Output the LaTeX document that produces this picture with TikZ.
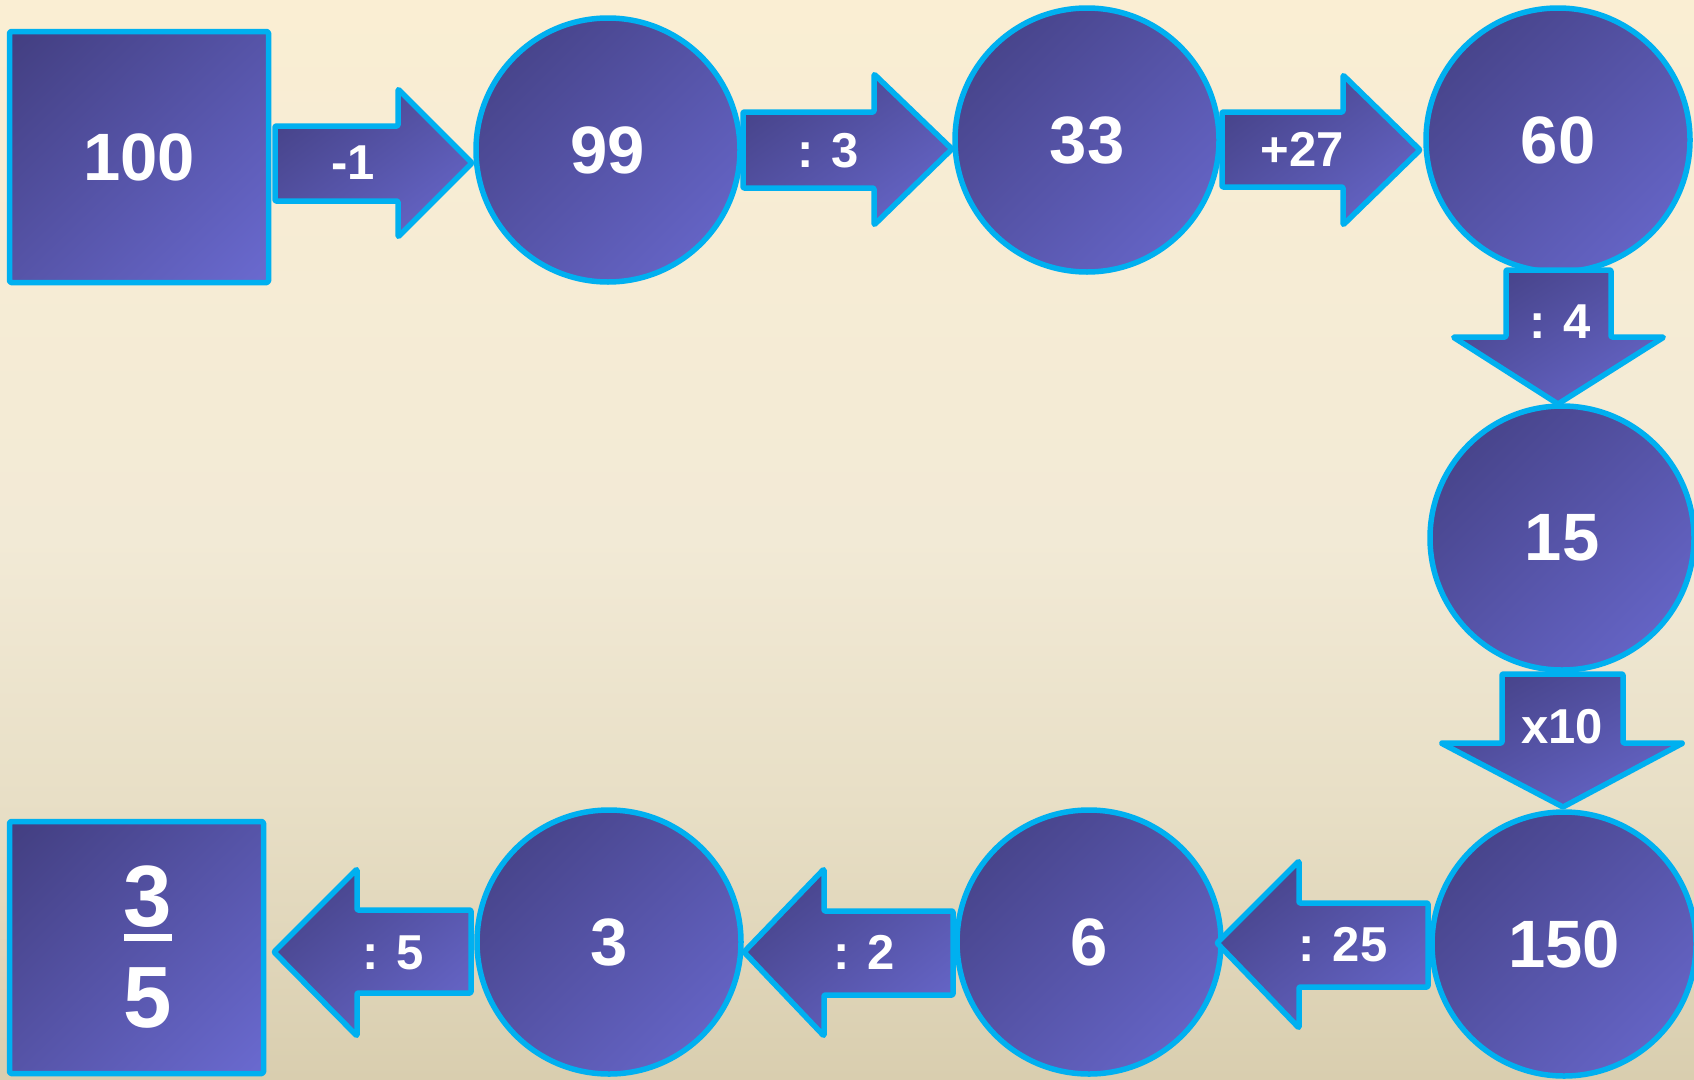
\documentclass[tikz,border=0pt]{standalone}
\usepackage{fontspec}
\setmainfont{Liberation Sans}
\usetikzlibrary{positioning,shadings}
\definecolor{rimcyan}{HTML}{00B0F0}
\definecolor{cardtl}{HTML}{423E80}
\definecolor{cardmid}{HTML}{5654A8}
\definecolor{cardbr}{HTML}{6A6AD0}
\definecolor{bgtop}{HTML}{FAEED3}
\definecolor{bgmid}{HTML}{F2EAD6}
\definecolor{bglow}{HTML}{E8DFC6}
\definecolor{bgbot}{HTML}{D9CEAF}
\pgfdeclareverticalshading{slidebg}{100bp}{color(0bp)=(bgbot); color(25bp)=(bgbot);
  color(38bp)=(bglow); color(50bp)=(bgmid); color(75bp)=(bgtop); color(100bp)=(bgtop)}

\begin{document}
\begin{tikzpicture}[x=1pt, y=-1pt,
  card/.style={draw=rimcyan, line width=5.5pt, line join=round,
    upper left=cardtl, upper right=cardmid, lower left=cardmid, lower right=cardbr},
  numcircle/.style={card, circle, minimum size=264pt, inner sep=0pt,
    text=white, font=\fontsize{67}{67}\selectfont\bfseries},
  numbox/.style={card, rectangle, rounded corners=1.5pt, inner sep=0pt,
    text=white, font=\fontsize{67}{67}\selectfont\bfseries},
  oparrow/.style={card, rounded corners=1pt},
  oplabel/.style={text=white, inner sep=0pt, font=\fontsize{49}{49}\selectfont\bfseries},
]
  \useasboundingbox (0,0) rectangle (1694,1079);
  \shade[shading=slidebg] (0,0) rectangle (1694,1079);

  % start and result
  \node[numbox, minimum width=259pt, minimum height=251pt] (n100) at (139,157) {100};
  \node[numbox, minimum width=254pt, minimum height=252pt] (nres) at (136.5,947.5) {};
  \node[text=white, inner sep=0pt, font=\fontsize{87}{87}\selectfont\bfseries]
    (nfrac) at (148,947) {\shortstack{3\\[3pt]\rule{48pt}{7pt}\\[24pt]5}};

  % intermediate values
  \node[numcircle] (n99) at (608,150) {99};
  \node[numcircle] (n33) at (1087,140) {33};
  \node[numcircle] (n60) at (1558,140) {60};
  \node[numcircle] (n15) at (1562,538) {15};
  \node[numcircle] (n150) at (1564,944) {150};
  \node[numcircle] (n6) at (1089,942) {6};
  \node[numcircle] (n3) at (609,942) {3};

  % operation arrows
  \path[oparrow] (275,126) -- (398,126) -- (398,89) -- (472,163) -- (398,237) -- (398,201) -- (275,201) -- cycle;
  \path[oparrow] (743,112) -- (874,112) -- (874,74) -- (952,149) -- (874,225) -- (874,188) -- (743,188) -- cycle;
  \path[oparrow] (1222,112) -- (1343,112) -- (1343,75) -- (1420,150) -- (1343,225) -- (1343,187) -- (1222,187) -- cycle;
  \path[oparrow] (1506,270) -- (1506,337) -- (1453,337) -- (1558,404) -- (1664,337) -- (1611,337) -- (1611,270) -- cycle;
  \path[oparrow] (1502,674) -- (1502,743) -- (1441,743) -- (1563,807) -- (1683,743) -- (1623,743) -- (1623,674) -- cycle;
  \path[oparrow] (1428,903) -- (1299,903) -- (1299,861) -- (1217,943) -- (1299,1028) -- (1299,987) -- (1428,987) -- cycle;
  \path[oparrow] (953,911) -- (824,911) -- (824,869) -- (744,952) -- (824,1036) -- (824,995) -- (953,995) -- cycle;
  \path[oparrow] (471,910) -- (357,910) -- (357,869) -- (274,952) -- (357,1036) -- (357,993) -- (471,993) -- cycle;

  \node[oplabel] (op1) at (353,163) {-1};
  \node[oplabel] (op2) at (828,151) {: 3};
  \node[oplabel] (op3) at (1302,149) {+27};
  \node[oplabel] (op4) at (1560,322) {: 4};
  \node[oplabel] (op5) at (1562,727) {x10};
  \node[oplabel] (op6) at (1343,945) {: 25};
  \node[oplabel] (op7) at (864,952) {: 2};
  \node[oplabel] (op8) at (393,953) {: 5};
\end{tikzpicture}
\end{document}
